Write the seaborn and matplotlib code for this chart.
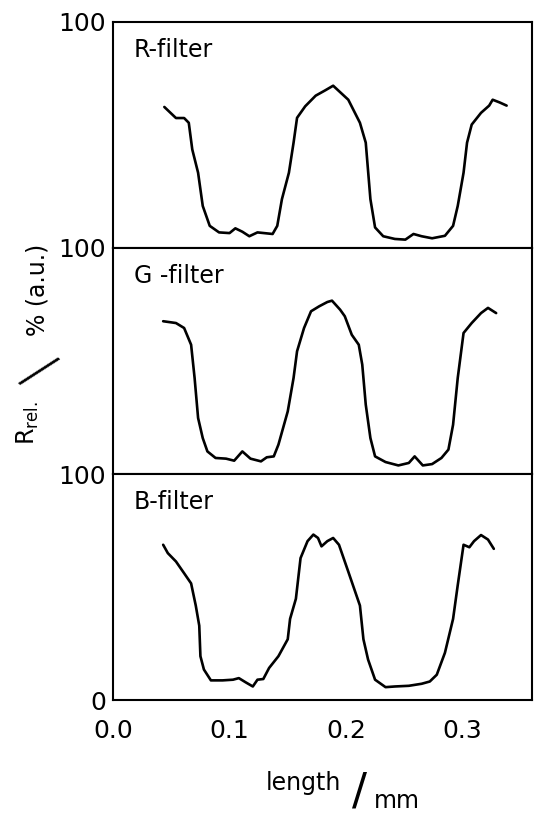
import numpy as np
import pandas as pd
import seaborn as sns
import matplotlib.pyplot as plt

# traced profiles (length in mm, relative reflectance in a.u.)
r_len = [0.044, 0.054, 0.061, 0.065, 0.068, 0.073, 0.077, 0.083, 0.091, 0.100, 0.105, 0.111, 0.117, 0.124,
         0.137, 0.141, 0.145, 0.151, 0.155, 0.158, 0.165, 0.174, 0.182, 0.189, 0.202, 0.212, 0.217, 0.221,
         0.225, 0.232, 0.242, 0.251, 0.258, 0.265, 0.274, 0.285, 0.292, 0.296, 0.301, 0.304, 0.308, 0.316,
         0.323, 0.326, 0.332, 0.338]
r_val = [62.4, 57.5, 57.5, 55.4, 43.6, 33.3, 18.6, 9.8, 6.9, 6.6, 8.7, 7.2, 5.2, 6.9,
         6.2, 9.8, 21.6, 33.3, 46.6, 57.6, 62.7, 67.4, 69.7, 71.8, 65.6, 55.4, 46.6, 21.6,
         9.1, 5.2, 4.0, 3.7, 6.2, 5.2, 4.3, 5.4, 9.8, 18.6, 33.3, 46.6, 54.6, 59.8,
         63.0, 65.6, 64.4, 63.0]

g_len = [0.043, 0.054, 0.061, 0.067, 0.070, 0.073, 0.077, 0.081, 0.088, 0.097, 0.104, 0.111, 0.118, 0.127,
         0.132, 0.138, 0.142, 0.150, 0.155, 0.158, 0.164, 0.170, 0.177, 0.184, 0.188, 0.195, 0.199, 0.205,
         0.211, 0.214, 0.217, 0.221, 0.225, 0.234, 0.245, 0.254, 0.259, 0.266, 0.274, 0.282, 0.288, 0.292,
         0.296, 0.301, 0.308, 0.316, 0.322, 0.329]
g_val = [67.6, 66.8, 64.6, 57.2, 42.5, 24.8, 15.9, 10.0, 7.1, 6.8, 5.9, 10.0, 6.8, 5.6,
         7.4, 7.8, 13.0, 27.7, 42.5, 54.3, 64.6, 72.0, 74.2, 76.1, 76.7, 72.7, 69.8, 61.6,
         57.2, 48.4, 30.7, 15.9, 7.8, 5.3, 3.8, 4.9, 7.8, 3.8, 4.4, 7.1, 10.8, 21.8,
         42.5, 62.4, 66.8, 71.2, 73.5, 71.2]

b_len = [0.043, 0.047, 0.054, 0.061, 0.067, 0.071, 0.074, 0.075, 0.078, 0.084, 0.094, 0.103, 0.108, 0.114,
         0.120, 0.124, 0.129, 0.134, 0.142, 0.150, 0.152, 0.157, 0.161, 0.167, 0.172, 0.176, 0.179, 0.184,
         0.189, 0.194, 0.202, 0.212, 0.215, 0.219, 0.225, 0.234, 0.242, 0.254, 0.265, 0.272, 0.278, 0.285,
         0.292, 0.296, 0.301, 0.306, 0.310, 0.316, 0.322, 0.327]
b_val = [68.7, 65.0, 61.3, 56.1, 51.6, 41.8, 32.9, 19.4, 13.5, 8.7, 8.7, 9.0, 9.7, 7.8,
         6.0, 9.0, 9.3, 14.2, 19.4, 26.9, 35.9, 44.8, 62.8, 70.3, 73.2, 71.7, 68.0, 70.3,
         71.7, 68.7, 56.8, 41.8, 26.9, 17.9, 9.0, 5.7, 6.0, 6.3, 7.2, 8.2, 11.2, 20.9,
         35.9, 50.8, 68.7, 67.6, 70.3, 73.0, 71.0, 66.9]

panels = [("R-filter", r_len, r_val), ("G -filter", g_len, g_val), ("B-filter", b_len, b_val)]
x_ticks = [0.0, 0.1, 0.2, 0.3]
x_ticklabels = ["0.0", "0.1", "0.2", "0.3"]

sns.set_style("white")
plt.rcParams['font.family'] = ['DejaVu Sans']
plt.rcParams.update({'text.color': 'black', 'xtick.color': 'black',
                     'ytick.color': 'black', 'axes.labelcolor': 'black'})

fig, axes = plt.subplots(3, 1, figsize=(5.36, 8.14), dpi=100, sharex=True)
fig.subplots_adjust(left=0.211, right=0.993, top=0.973, bottom=0.140, hspace=0)

for ax, (name, xs, ys) in zip(axes, panels):
    df = pd.DataFrame({'length': xs, 'R': ys})
    sns.lineplot(data=df, x='length', y='R', ax=ax, color='black', linewidth=1.9)
    ax.set_xlim(0, 0.36)
    ax.set_ylim(0, 100)
    ax.set_xlabel('')
    ax.set_ylabel('')
    for s in ax.spines.values():
        s.set_color('black')
        s.set_linewidth(1.5)
    ax.text(0.05, 0.93, name, transform=ax.transAxes, fontsize=17, va='top', ha='left')
    ax.set_yticks([100])
    ax.set_yticklabels(['100'])
    ax.tick_params(axis='y', length=0, labelsize=18, pad=5)

axes[2].set_yticks([0, 100])
axes[2].set_yticklabels(['0', '100'])
axes[2].set_xticks(x_ticks)
axes[2].set_xticklabels(x_ticklabels)
axes[2].tick_params(axis='x', direction='in', length=9, width=1.5, labelsize=18, pad=14)
for ax in axes[:2]:
    ax.tick_params(axis='x', length=0, labelbottom=False)

# y label pieces: R_rel. / % (a.u.)
fig.text(28 / 536, 1 - 423 / 814, r"R$_{\mathrm{rel.}}$", rotation=90, fontsize=17,
         ha='center', va='center')
fig.text(36 / 536, 1 - 372 / 814, "/", rotation=-40, fontsize=40, fontweight='light',
         ha='center', va='center')
fig.text(38 / 536, 1 - 290 / 814, "% (a.u.)", rotation=90, fontsize=17,
         ha='center', va='center')

# x label: length / mm
fig.text(303 / 536, 1 - 790 / 814, "length", fontsize=17, ha='center', va='baseline')
fig.text(359 / 536, 1 - 792 / 814, "/", fontsize=32, ha='center', va='center')
fig.text(397 / 536, 1 - 808 / 814, "mm", fontsize=17, ha='center', va='baseline')

plt.savefig('out.png', dpi=100)
